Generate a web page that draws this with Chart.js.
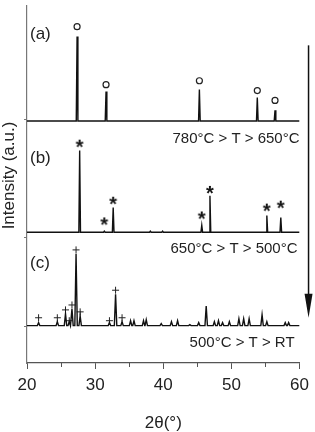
<!DOCTYPE html>
<html>
<head>
<meta charset="utf-8">
<script src="https://cdn.jsdelivr.net/npm/chart.js@4.4.1/dist/chart.umd.min.js"></script>
<style>
    html, body { margin: 0; padding: 0; background: #fff; }
</style>
</head>
<body>
<canvas id="xrd" width="315" height="432"></canvas>
<script>
// XRD patterns, 2theta in degrees, intensity in a.u. (stacked)
const peaksA = [27.35, 31.6, 45.3, 53.8, 56.4];
const heightsA = [86, 30, 32, 24, 11];
const offsetA = 246;

const peaksB = [27.73, 31.35, 32.65, 38.1, 39.9, 45.65, 46.85, 55.2, 57.25];
const heightsB = [83, 1, 25, 1, 1, 7, 37, 17, 15];
const offsetB = 133;

const peaksC = [21.7, 24.45, 25.65, 26.2, 26.6, 27.2, 27.8, 32.1, 33.0, 33.95,
    35.2, 35.7, 37.1, 37.5, 39.7, 41.2, 42.1, 43.9, 45.2, 46.3, 47.5, 48.1,
    48.7, 49.7, 51.1, 51.8, 52.6, 54.5, 55.2, 57.9, 58.4];
const heightsC = [3, 4, 12, 4, 17, 73, 10, 3, 32, 4,
    5, 5, 5, 6, 2, 4, 5, 1, 3, 20, 4, 5,
    3, 4, 7, 7, 7, 11, 4, 3, 3];
const offsetC = 38;

// phase markers (o, *, +)
const circlesX = [27.35, 31.6, 45.3, 53.8, 56.4];
const circlesY = [342, 283, 287, 277, 267];
const starsX = [27.73, 31.35, 32.65, 45.65, 46.85, 55.2, 57.25];
const starsY = [223, 144, 165, 150, 176, 158, 161];
const crossesX = [21.7, 24.45, 25.65, 26.2, 26.6, 27.2, 27.8, 32.1, 33.0, 33.95];
const crossesY = [46, 46, 54, 43, 59, 115, 52, 43, 74, 46];

const panelLabels = ['(a)', '(b)', '(c)'];
const tempLabels = ['780°C > T > 650°C', '650°C > T > 500°C', '500°C > T > RT'];
const xTicks = [20, 30, 40, 50, 60];

const FONT = "'Liberation Sans', Arial, sans-serif";

// Build the line points from the peak list
function buildTrace(positions, heights, offset, halfWidth) {
    const pts = [{ x: 20, y: offset }];
    positions.forEach((p, i) => {
        pts.push({ x: p - halfWidth, y: offset });
        pts.push({ x: p, y: offset + heights[i] });
        pts.push({ x: p + halfWidth, y: offset });
    });
    pts.push({ x: 60, y: offset });
    return pts;
}

function toPoints(xs, ys) {
    return xs.map((x, i) => ({ x: x, y: ys[i] }));
}

function traceDataset(data) {
    return {
        type: 'scatter',
        data: data,
        showLine: true,
        borderColor: '#111',
        borderWidth: 1.4,
        pointRadius: 0,
        tension: 0
    };
}

// asterisk glyph used as point style
function asteriskImage() {
    const c = document.createElement('canvas');
    c.width = 16;
    c.height = 16;
    const g = c.getContext('2d');
    g.font = 'bold 20px ' + FONT;
    g.fillStyle = '#111';
    g.textAlign = 'center';
    g.textBaseline = 'alphabetic';
    const m = g.measureText('*');
    const h = m.actualBoundingBoxAscent + m.actualBoundingBoxDescent;
    g.fillText('*', 8, 8 + m.actualBoundingBoxAscent - h / 2);
    return c;
}

// Texts, minor ticks, arrow and y title
const decorations = {
    id: 'decorations',
    afterDraw(chart) {
        const ctx = chart.ctx;
        const area = chart.chartArea;
        const xs = chart.scales.x;
        const ys = chart.scales.y;
        ctx.save();

        // minor ticks
        ctx.strokeStyle = '#555';
        ctx.lineWidth = 1;
        [25, 35, 45, 55].forEach(v => {
            const px = Math.round(xs.getPixelForValue(v)) + 0.5;
            ctx.beginPath();
            ctx.moveTo(px, area.bottom);
            ctx.lineTo(px, area.bottom + 4);
            ctx.stroke();
        });

        ctx.fillStyle = '#222';
        ctx.font = '17px ' + FONT;
        ctx.textAlign = 'left';
        ctx.textBaseline = 'middle';
        const panelY = [334, 208, 101];
        panelLabels.forEach((t, i) => {
            ctx.fillText(t, area.left + 3, ys.getPixelForValue(panelY[i]));
        });

        ctx.font = '15px ' + FONT;
        ctx.textAlign = 'right';
        const tempY = [228, 116, 20];
        const tempRight = [0, 2, 5];
        tempLabels.forEach((t, i) => {
            ctx.fillText(t, area.right - tempRight[i], ys.getPixelForValue(tempY[i]));
        });

        // y axis title
        ctx.save();
        ctx.translate(9, (area.top + area.bottom) / 2 - 9);
        ctx.rotate(-Math.PI / 2);
        ctx.textAlign = 'center';
        ctx.font = '17px ' + FONT;
        ctx.fillText('Intensity (a.u.)', 0, 0);
        ctx.restore();

        // arrow
        const ax = area.right + 9;
        const yTop = ys.getPixelForValue(323);
        const yTip = ys.getPixelForValue(46);
        ctx.strokeStyle = '#111';
        ctx.fillStyle = '#111';
        ctx.lineWidth = 1.5;
        ctx.beginPath();
        ctx.moveTo(ax, yTop);
        ctx.lineTo(ax, yTip - 20);
        ctx.stroke();
        ctx.beginPath();
        ctx.moveTo(ax - 4, yTip - 24);
        ctx.lineTo(ax + 4, yTip - 24);
        ctx.lineTo(ax, yTip);
        ctx.closePath();
        ctx.fill();

        ctx.restore();
    }
};

new Chart(document.getElementById('xrd'), {
    data: {
        datasets: [
            traceDataset(buildTrace(peaksA, heightsA, offsetA, 0.12)),
            traceDataset(buildTrace(peaksB, heightsB, offsetB, 0.12)),
            traceDataset(buildTrace(peaksC, heightsC, offsetC, 0.18)),
            {
                type: 'scatter',
                data: toPoints(circlesX, circlesY),
                pointStyle: 'circle',
                pointRadius: 3,
                pointBorderWidth: 1.2,
                pointBorderColor: '#222',
                pointBackgroundColor: '#fff'
            },
            {
                type: 'scatter',
                data: toPoints(starsX, starsY),
                pointStyle: asteriskImage(),
                pointRadius: 5
            },
            {
                type: 'scatter',
                data: toPoints(crossesX, crossesY),
                pointStyle: 'cross',
                pointRadius: 3.5,
                pointBorderWidth: 1,
                pointBorderColor: '#222'
            }
        ]
    },
    options: {
        responsive: false,
        animation: false,
        events: [],
        layout: { padding: { top: 0, right: 12, bottom: 0, left: 0 } },
        plugins: {
            legend: { display: false },
            tooltip: { enabled: false }
        },
        scales: {
            x: {
                type: 'linear',
                min: 20,
                max: 60,
                afterBuildTicks: scale => {
                    scale.ticks = xTicks.map(v => ({ value: v }));
                },
                afterFit: scale => { scale.height = 69; },
                ticks: {
                    color: '#222',
                    padding: 6,
                    font: { family: FONT, size: 17 }
                },
                grid: {
                    drawOnChartArea: false,
                    tickLength: 6,
                    color: '#555'
                },
                border: { color: '#555', width: 1.2 },
                title: {
                    display: true,
                    text: '2θ(°)',
                    color: '#222',
                    padding: { top: 0, bottom: -2 },
                    font: { family: FONT, size: 17 }
                }
            },
            y: {
                type: 'linear',
                min: 0,
                max: 363,
                afterBuildTicks: scale => {
                    scale.ticks = [offsetC - 1, offsetB - 5, offsetA + 2].map(v => ({ value: v }));
                },
                afterFit: scale => { scale.width = 27; },
                ticks: { display: false },
                grid: {
                    drawOnChartArea: false,
                    tickLength: 3,
                    color: '#777'
                },
                border: { color: '#777', width: 1.2 }
            }
        }
    },
    plugins: [decorations]
});
</script>
</body>
</html>
